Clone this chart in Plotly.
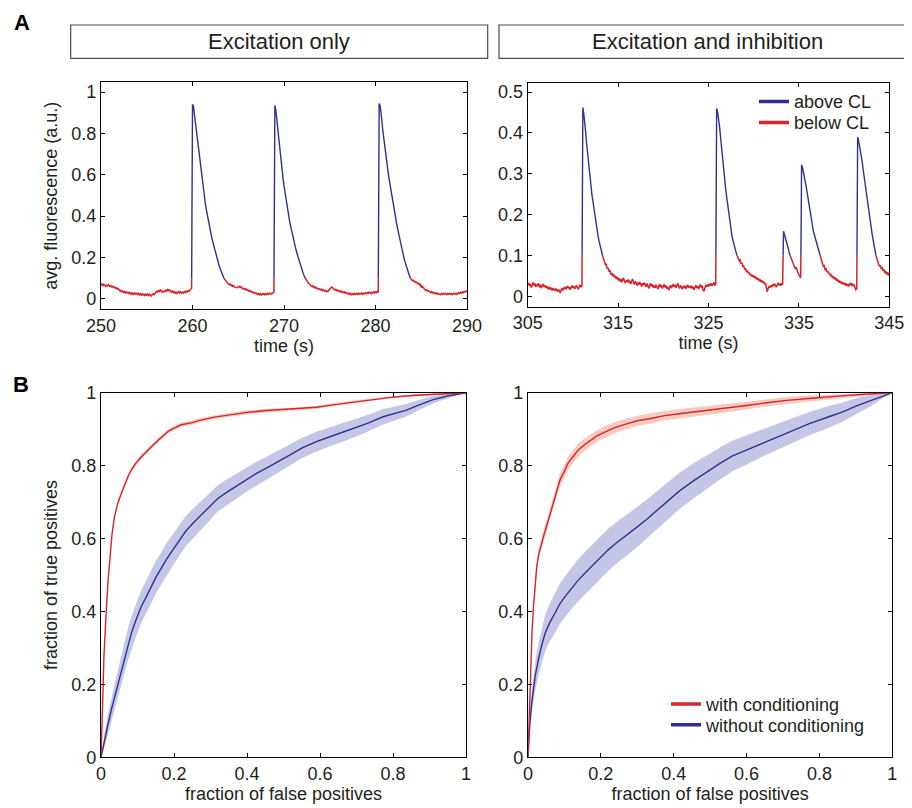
import numpy as np
import plotly.graph_objects as go

# ---------------- data ----------------
CL = 0.1
t0_left, t0_right, dt = 250.0, 305.0, 0.1

fluo_exc = [
 0.068,0.072,0.064,0.070,0.066,0.061,0.067,0.063,0.069,0.062,
 0.060,0.064,0.057,0.061,0.055,0.058,0.051,0.054,0.048,0.050,
 0.043,0.037,0.041,0.034,0.038,0.031,0.036,0.029,0.034,0.030,
 0.026,0.032,0.025,0.030,0.023,0.028,0.022,0.029,0.024,0.027,
 0.021,0.027,0.020,0.025,0.018,0.024,0.019,0.023,0.017,0.022,
 0.018,0.024,0.016,0.022,0.019,0.014,0.021,0.025,0.020,0.027,
 0.031,0.038,0.034,0.041,0.036,0.043,0.037,0.033,0.039,0.034,
 0.038,0.043,0.036,0.046,0.040,0.044,0.037,0.033,0.038,0.031,
 0.035,0.028,0.033,0.026,0.031,0.036,0.029,0.034,0.027,0.032,
 0.029,0.035,0.031,0.037,0.033,0.040,0.036,0.044,0.048,0.050,
 0.940,0.932,0.895,0.862,0.815,0.775,0.737,0.697,0.658,0.620,
 0.585,0.552,0.520,0.490,0.462,0.435,0.409,0.384,0.360,0.338,
 0.317,0.297,0.278,0.260,0.242,0.225,0.208,0.192,0.177,0.163,
 0.150,0.137,0.124,0.112,0.102,0.095,0.091,0.084,0.080,0.073,
 0.069,0.072,0.065,0.068,0.061,0.064,0.057,0.055,0.052,0.054,
 0.058,0.061,0.056,0.060,0.053,0.049,0.052,0.046,0.049,0.043,
 0.045,0.039,0.042,0.035,0.038,0.031,0.034,0.028,0.031,0.026,
 0.028,0.022,0.026,0.020,0.025,0.019,0.024,0.021,0.026,0.020,
 0.025,0.021,0.027,0.022,0.026,0.029,0.024,0.028,0.031,0.032,
 0.935,0.915,0.870,0.820,0.775,0.732,0.690,0.652,0.615,0.580,
 0.547,0.515,0.485,0.456,0.430,0.405,0.380,0.357,0.335,0.314,
 0.294,0.275,0.257,0.240,0.223,0.207,0.191,0.176,0.162,0.148,
 0.135,0.123,0.112,0.102,0.094,0.086,0.082,0.074,0.073,0.066,
 0.061,0.064,0.057,0.060,0.053,0.056,0.049,0.052,0.046,0.048,
 0.043,0.047,0.040,0.044,0.038,0.041,0.035,0.039,0.036,0.042,
 0.047,0.053,0.058,0.055,0.049,0.044,0.047,0.041,0.045,0.038,
 0.041,0.035,0.039,0.032,0.036,0.030,0.034,0.028,0.031,0.026,
 0.024,0.029,0.022,0.026,0.020,0.025,0.021,0.027,0.022,0.026,
 0.023,0.028,0.022,0.027,0.024,0.029,0.023,0.028,0.025,0.030,
 0.026,0.031,0.027,0.033,0.028,0.032,0.026,0.031,0.035,0.029,
 0.034,0.030,0.036,0.031,0.945,0.935,0.905,0.860,0.815,0.775,
 0.738,0.703,0.670,0.637,0.606,0.577,0.548,0.520,0.494,0.468,
 0.440,0.415,0.390,0.366,0.343,0.320,0.298,0.277,0.257,0.237,
 0.218,0.200,0.183,0.167,0.152,0.138,0.125,0.113,0.103,0.095,
 0.089,0.091,0.084,0.086,0.079,0.081,0.074,0.076,0.069,0.071,
 0.058,0.062,0.054,0.050,0.046,0.041,0.044,0.038,0.040,0.034,
 0.031,0.035,0.029,0.033,0.027,0.030,0.025,0.029,0.023,0.026,
 0.024,0.020,0.026,0.022,0.027,0.023,0.028,0.025,0.021,0.026,
 0.023,0.027,0.022,0.026,0.021,0.025,0.028,0.023,0.027,0.022,
 0.027,0.031,0.026,0.032,0.029,0.034,0.030,0.036,0.033,0.038,
 0.040]

fluo_inh = [
 0.029,0.034,0.026,0.031,0.022,0.028,0.035,0.027,0.032,0.024,
 0.030,0.026,0.033,0.023,0.029,0.021,0.027,0.031,0.024,0.028,
 0.022,0.026,0.019,0.024,0.017,0.023,0.020,0.015,0.021,0.018,
 0.014,0.020,0.016,0.012,0.018,0.013,0.009,0.016,0.021,0.015,
 0.019,0.024,0.018,0.022,0.026,0.020,0.024,0.017,0.023,0.027,
 0.021,0.026,0.019,0.024,0.028,0.022,0.018,0.025,0.029,0.023,
 0.026,0.462,0.448,0.430,0.405,0.378,0.355,0.335,0.310,0.285,
 0.268,0.250,0.235,0.218,0.204,0.190,0.175,0.160,0.146,0.135,
 0.126,0.115,0.106,0.099,0.091,0.088,0.078,0.079,0.068,0.071,
 0.061,0.065,0.054,0.058,0.050,0.055,0.047,0.051,0.043,0.048,
 0.040,0.045,0.037,0.043,0.035,0.041,0.046,0.038,0.033,0.040,
 0.036,0.042,0.034,0.039,0.031,0.037,0.043,0.035,0.030,0.038,
 0.033,0.027,0.035,0.029,0.036,0.031,0.025,0.033,0.028,0.034,
 0.029,0.024,0.032,0.026,0.020,0.028,0.033,0.025,0.030,0.022,
 0.027,0.021,0.029,0.024,0.018,0.026,0.031,0.023,0.028,0.020,
 0.025,0.030,0.022,0.027,0.019,0.024,0.016,0.022,0.028,0.021,
 0.026,0.031,0.024,0.029,0.022,0.027,0.033,0.025,0.020,0.028,
 0.023,0.018,0.026,0.021,0.027,0.019,0.024,0.029,0.022,0.026,
 0.021,0.027,0.020,0.025,0.017,0.023,0.028,0.021,0.026,0.019,
 0.024,0.030,0.022,0.027,0.016,0.013,0.021,0.028,0.024,0.030,
 0.025,0.031,0.027,0.033,0.026,0.031,0.035,0.028,0.030,0.460,
 0.452,0.440,0.420,0.398,0.372,0.348,0.325,0.303,0.282,0.263,
 0.245,0.228,0.210,0.190,0.172,0.160,0.148,0.138,0.128,0.120,
 0.111,0.104,0.099,0.094,0.088,0.090,0.080,0.083,0.073,0.076,
 0.066,0.069,0.061,0.064,0.057,0.060,0.052,0.055,0.049,0.053,
 0.047,0.051,0.044,0.048,0.041,0.045,0.038,0.042,0.036,0.040,
 0.034,0.037,0.030,0.033,0.018,0.012,0.020,0.026,0.022,0.028,
 0.024,0.030,0.026,0.032,0.027,0.023,0.029,0.034,0.028,0.031,
 0.027,0.033,0.029,0.160,0.152,0.145,0.137,0.128,0.120,0.110,
 0.102,0.097,0.091,0.086,0.082,0.075,0.068,0.072,0.062,0.058,
 0.054,0.049,0.046,0.322,0.315,0.305,0.295,0.283,0.270,0.256,
 0.242,0.226,0.210,0.196,0.185,0.172,0.160,0.152,0.143,0.135,
 0.128,0.120,0.112,0.104,0.097,0.088,0.085,0.074,0.076,0.066,
 0.068,0.060,0.063,0.055,0.058,0.050,0.054,0.046,0.050,0.043,
 0.047,0.040,0.044,0.037,0.041,0.034,0.038,0.031,0.036,0.030,
 0.034,0.028,0.033,0.026,0.031,0.025,0.030,0.034,0.027,0.032,
 0.026,0.030,0.022,0.017,0.020,0.390,0.382,0.370,0.358,0.345,
 0.330,0.312,0.295,0.278,0.260,0.243,0.226,0.210,0.195,0.180,
 0.166,0.153,0.140,0.127,0.113,0.102,0.094,0.086,0.084,0.074,
 0.077,0.068,0.072,0.063,0.067,0.058,0.062,0.054,0.060,0.052,
 0.058]

# ROC, excitation only
fpr_exc_cond = [0,0.002,0.004,0.006,0.008,0.011,0.015,0.019,0.024,0.03,0.037,0.046,0.056,0.065,0.074,0.083,0.092,0.105,0.12,0.138,0.156,0.17,0.184,0.2,0.22,0.25,0.27,0.311,0.36,0.4,0.453,0.5,0.55,0.59,0.63,0.68,0.74,0.8,0.86,0.91,0.96,1]
tpr_exc_cond = [0,0.05,0.12,0.2,0.276,0.35,0.413,0.48,0.55,0.61,0.66,0.697,0.724,0.75,0.77,0.788,0.802,0.818,0.834,0.852,0.869,0.882,0.894,0.903,0.912,0.918,0.924,0.933,0.94,0.946,0.951,0.954,0.956,0.96,0.966,0.973,0.981,0.988,0.993,0.996,0.998,1]
err_exc_cond = [0,0.002,0.003,0.004,0.004,0.005,0.005,0.005,0.005,0.006,0.006,0.006,0.006,0.006,0.006,0.006,0.006,0.006,0.006,0.006,0.006,0.006,0.006,0.006,0.006,0.006,0.006,0.005,0.005,0.005,0.005,0.004,0.004,0.004,0.004,0.004,0.003,0.003,0.002,0.002,0.001,0]
fpr_exc_nocond = [0,0.005,0.01,0.019,0.028,0.038,0.047,0.056,0.065,0.074,0.083,0.096,0.11,0.124,0.138,0.151,0.165,0.178,0.195,0.215,0.232,0.252,0.275,0.297,0.32,0.343,0.375,0.398,0.425,0.453,0.485,0.517,0.55,0.59,0.635,0.682,0.73,0.773,0.805,0.837,0.87,0.91,0.95,1]
tpr_exc_nocond = [0,0.025,0.047,0.09,0.129,0.167,0.202,0.24,0.276,0.31,0.34,0.377,0.413,0.44,0.468,0.495,0.518,0.541,0.566,0.596,0.62,0.642,0.665,0.687,0.71,0.726,0.746,0.761,0.778,0.793,0.81,0.829,0.848,0.866,0.882,0.898,0.916,0.934,0.943,0.952,0.966,0.981,0.991,1]
err_exc_nocond = [0,0.012,0.02,0.028,0.033,0.037,0.04,0.042,0.043,0.044,0.045,0.045,0.045,0.045,0.045,0.045,0.044,0.044,0.043,0.042,0.041,0.04,0.039,0.038,0.036,0.035,0.034,0.033,0.032,0.031,0.03,0.029,0.028,0.027,0.026,0.025,0.023,0.021,0.019,0.017,0.014,0.01,0.006,0]

# ROC, excitation and inhibition
fpr_inh_cond = [0,0.002,0.004,0.006,0.008,0.011,0.015,0.019,0.024,0.03,0.037,0.046,0.056,0.065,0.074,0.081,0.088,0.1,0.11,0.124,0.138,0.156,0.174,0.19,0.211,0.24,0.266,0.3,0.34,0.375,0.42,0.5,0.55,0.6,0.66,0.71,0.77,0.82,0.87,0.911,0.95,1]
tpr_inh_cond = [0,0.06,0.15,0.22,0.276,0.345,0.413,0.47,0.523,0.56,0.587,0.618,0.651,0.683,0.715,0.74,0.761,0.785,0.807,0.825,0.843,0.858,0.871,0.882,0.892,0.905,0.913,0.923,0.93,0.937,0.943,0.952,0.958,0.965,0.973,0.979,0.984,0.987,0.992,0.995,0.997,1]
err_inh_cond = [0,0.004,0.006,0.008,0.01,0.011,0.012,0.013,0.014,0.015,0.016,0.017,0.018,0.018,0.018,0.018,0.018,0.018,0.018,0.018,0.018,0.017,0.017,0.016,0.016,0.015,0.015,0.014,0.014,0.013,0.013,0.012,0.012,0.011,0.01,0.009,0.008,0.007,0.006,0.004,0.003,0]
fpr_inh_nocond = [0,0.002,0.005,0.01,0.015,0.02,0.028,0.037,0.047,0.06,0.074,0.087,0.101,0.12,0.138,0.156,0.174,0.197,0.22,0.245,0.271,0.3,0.326,0.35,0.381,0.415,0.454,0.49,0.527,0.56,0.6,0.64,0.683,0.73,0.774,0.82,0.866,0.9,0.939,0.97,1]
tpr_inh_nocond = [0,0.04,0.092,0.148,0.184,0.225,0.265,0.305,0.34,0.37,0.395,0.42,0.44,0.465,0.486,0.505,0.523,0.546,0.569,0.59,0.609,0.632,0.653,0.674,0.701,0.73,0.758,0.782,0.806,0.826,0.843,0.861,0.879,0.898,0.916,0.932,0.948,0.963,0.978,0.99,1]
err_inh_nocond = [0,0.01,0.02,0.03,0.036,0.04,0.044,0.047,0.05,0.052,0.054,0.055,0.056,0.057,0.058,0.058,0.058,0.058,0.058,0.057,0.056,0.055,0.054,0.053,0.052,0.05,0.048,0.046,0.044,0.042,0.04,0.038,0.036,0.034,0.032,0.03,0.026,0.022,0.016,0.008,0]

# ---------------- style ----------------
BLUE = '#2E3192'
RED = '#D8232A'
BLUE_BAND = 'rgba(150,152,208,0.55)'
RED_BAND = 'rgba(244,160,140,0.55)'
FONT = 'Liberation Sans, Arial, Helvetica, sans-serif'
TXT = '#231F20'
OFF = 8                      # page body margin of the html page
W, H = 912 - OFF, 808 - OFF


def split_cl(t, v, cl):
    ax, ay, bx, by = [], [], [], []
    n = len(v)
    for i in range(n):
        if v[i] >= cl:
            ax.append(t[i]); ay.append(v[i]); bx.append(None); by.append(None)
        else:
            bx.append(t[i]); by.append(v[i]); ax.append(None); ay.append(None)
        if i < n - 1 and (v[i] - cl) * (v[i + 1] - cl) < 0:
            tc = t[i] + (cl - v[i]) * (t[i + 1] - t[i]) / (v[i + 1] - v[i])
            ax.append(tc); ay.append(cl); bx.append(tc); by.append(cl)
    return ax, ay, bx, by


fig = go.Figure()

for vals, t0, xa, ya in [(fluo_exc, t0_left, 'x', 'y'), (fluo_inh, t0_right, 'x2', 'y2')]:
    t = list(np.round(t0 + dt * np.arange(len(vals)), 2))
    ax_, ay_, bx_, by_ = split_cl(t, vals, CL)
    fig.add_trace(go.Scatter(x=bx_, y=by_, mode='lines', line=dict(color=RED, width=1.5),
                             xaxis=xa, yaxis=ya, showlegend=False, hoverinfo='skip'))
    fig.add_trace(go.Scatter(x=ax_, y=ay_, mode='lines', line=dict(color=BLUE, width=1.4),
                             xaxis=xa, yaxis=ya, showlegend=False, hoverinfo='skip'))

rocs = [
    ('x3', 'y3', fpr_exc_nocond, tpr_exc_nocond, err_exc_nocond, BLUE, BLUE_BAND),
    ('x3', 'y3', fpr_exc_cond, tpr_exc_cond, err_exc_cond, RED, RED_BAND),
    ('x4', 'y4', fpr_inh_nocond, tpr_inh_nocond, err_inh_nocond, BLUE, BLUE_BAND),
    ('x4', 'y4', fpr_inh_cond, tpr_inh_cond, err_inh_cond, RED, RED_BAND),
]
for xa, ya, f, tp, e, col, band in rocs:
    assert len(f) == len(tp) == len(e)
    f = np.array(f); tp = np.array(tp); e = np.array(e)
    up = np.clip(tp + e, 0, 1); lo = np.clip(tp - e, 0, 1)
    fig.add_trace(go.Scatter(x=list(f) + list(f[::-1]), y=list(up) + list(lo[::-1]),
                             fill='toself', fillcolor=band, line=dict(width=0),
                             mode='lines', xaxis=xa, yaxis=ya, showlegend=False, hoverinfo='skip'))
for xa, ya, f, tp, e, col, band in rocs:
    fig.add_trace(go.Scatter(x=f, y=tp, mode='lines', line=dict(color=col, width=1.4),
                             xaxis=xa, yaxis=ya, showlegend=False, hoverinfo='skip'))

# legend entries (one legend per entry for exact placement)
leg_items = [('above CL', BLUE, 'legend'), ('below CL', RED, 'legend2'),
             ('with conditioning', RED, 'legend3'), ('without conditioning', BLUE, 'legend4')]
for name, col, lg in leg_items:
    fig.add_trace(go.Scatter(x=[None], y=[None], mode='lines', name=name,
                             line=dict(color=col, width=3.5), legend=lg, xaxis='x', yaxis='y'))


def px(x):
    return (x - OFF) / W


def py(y):
    return 1 - (y - OFF) / H


axis_common = dict(showline=True, linecolor='black', linewidth=1.3, mirror='ticks',
                   ticks='inside', ticklen=4, tickwidth=1, tickcolor='black',
                   showgrid=False, zeroline=False, automargin=False,
                   tickfont=dict(family=FONT, size=18, color=TXT))
title_font = dict(family=FONT, size=18, color=TXT)

leg_common = dict(font=dict(family=FONT, size=18, color=TXT), bgcolor='rgba(0,0,0,0)',
                  borderwidth=0, xanchor='left', yanchor='middle', itemwidth=30,
                  itemclick=False, itemdoubleclick=False)

fig.update_layout(
    template='none',
    width=W, height=H, margin=dict(l=0, r=0, t=0, b=0, autoexpand=False),
    paper_bgcolor='white', plot_bgcolor='white',
    font=dict(family=FONT, size=18, color=TXT),
    xaxis=dict(domain=[px(101), px(467)], range=[250, 290], dtick=10, tick0=250,
               title=dict(text='time (s)', font=title_font, standoff=2), anchor='y', **axis_common),
    yaxis=dict(domain=[py(309.3), py(82.3)], range=[-0.05, 1.047], dtick=0.2, tick0=0,
               title=dict(text='avg. fluorescence (a.u.)', font=title_font, standoff=8), anchor='x', **axis_common),
    xaxis2=dict(domain=[px(527.7), px(889.3)], range=[305, 345], dtick=10, tick0=305,
                title=dict(text='time (s)', font=title_font, standoff=2), anchor='y2', **axis_common),
    yaxis2=dict(domain=[py(306.7), py(83)], range=[-0.0245, 0.522], dtick=0.1, tick0=0,
                anchor='x2', **axis_common),
    xaxis3=dict(domain=[px(101), px(466)], range=[0, 1], dtick=0.2, tick0=0,
                title=dict(text='fraction of false positives', font=title_font, standoff=2), anchor='y3', **axis_common),
    yaxis3=dict(domain=[py(757.3), py(392.7)], range=[0, 1], dtick=0.2, tick0=0,
                title=dict(text='fraction of true positives', font=title_font, standoff=8), anchor='x3', **axis_common),
    xaxis4=dict(domain=[px(528), px(892.3)], range=[0, 1], dtick=0.2, tick0=0,
                title=dict(text='fraction of false positives', font=title_font, standoff=2), anchor='y4', **axis_common),
    yaxis4=dict(domain=[py(757.3), py(392.7)], range=[0, 1], dtick=0.2, tick0=0,
                anchor='x4', **axis_common),
    legend=dict(x=px(754), y=py(101.7), **leg_common),
    legend2=dict(x=px(754), y=py(122.7), **leg_common),
    legend3=dict(x=px(666), y=py(704.3), **leg_common),
    legend4=dict(x=px(666), y=py(725), **leg_common),
)

# title boxes
fig.add_shape(type='rect', xref='paper', yref='paper', x0=px(70.7), x1=px(487.7),
              y0=py(58.3), y1=py(25), line=dict(color='#4D4D4D', width=1.2), fillcolor='rgba(0,0,0,0)')
fig.add_shape(type='rect', xref='paper', yref='paper', x0=px(499), x1=px(915),
              y0=py(58.3), y1=py(25), line=dict(color='#4D4D4D', width=1.2), fillcolor='rgba(0,0,0,0)')

ann = [
    dict(text='Excitation only', x=px(279.2), y=py(42)),
    dict(text='Excitation and inhibition', x=px(707), y=py(42)),
]
for a in ann:
    fig.add_annotation(xref='paper', yref='paper', showarrow=False, xanchor='center', yanchor='middle',
                       font=dict(family=FONT, size=22, color=TXT), **a)
for letter, xx, yy, anchor in [('A', 21.5, 8, 'top'), ('B', 21, 384, 'middle')]:
    fig.add_annotation(xref='paper', yref='paper', showarrow=False, xanchor='center', yanchor=anchor,
                       text='<b>%s</b>' % letter, x=px(xx), y=py(yy),
                       font=dict(family=FONT, size=22, color='black'))

fig.write_html('out.html')
